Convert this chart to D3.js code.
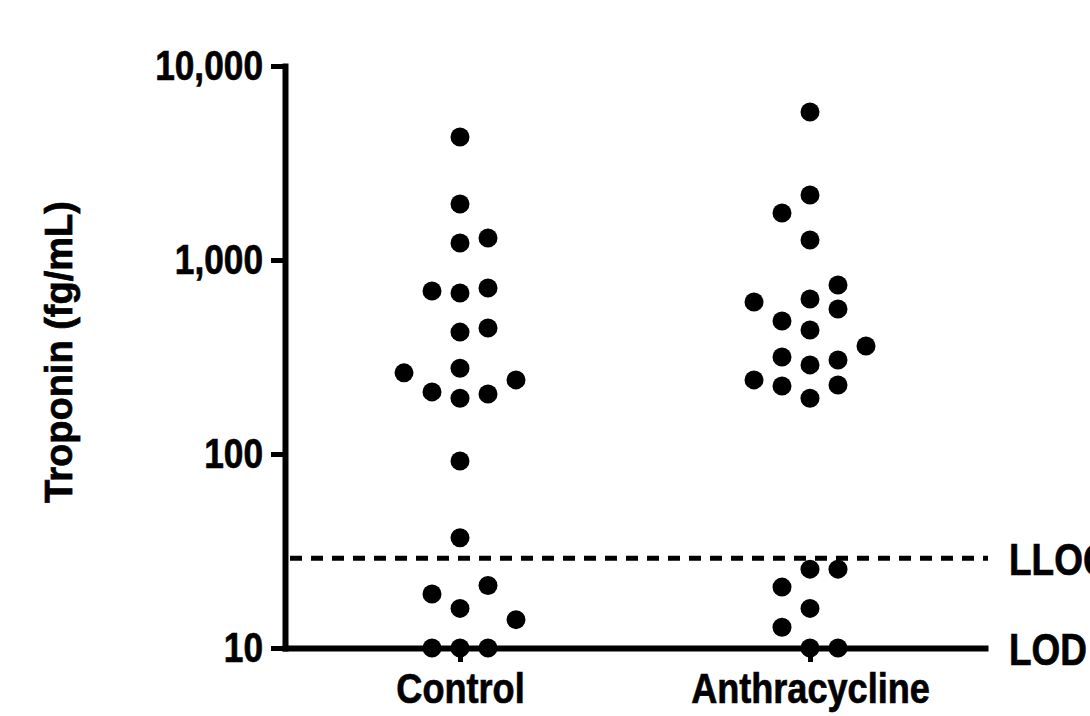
<!DOCTYPE html>
<html>
<head>
<meta charset="utf-8">
<script src="https://cdn.jsdelivr.net/npm/d3@7.9.0/dist/d3.min.js"></script>
<style>
  body { margin: 0; background: #fff; }
  svg { display: block; }
  text { font-family: "Liberation Sans", Arial, sans-serif; font-weight: bold; fill: #000;
         stroke: #000; stroke-width: 0.7px; }
</style>
</head>
<body>
<svg id="chart" width="1090" height="716"></svg>
<script>
// groups on the x axis
const groups = ['Control', 'Anthracycline'];

// troponin values (fg/mL)
const controlValues = [4305, 1944, 1224, 1298, 692, 676, 717, 425, 446, 277, 262, 241,
  209, 194, 204, 92, 37, 19, 21, 16, 14, 10, 10, 10];
// scatter column of each dot (0 = centre of the group)
const controlSlots = [0, 0, 0, 1, -1, 0, 1, 0, 1, 0, -2, 2,
  -1, 0, 1, 0, 0, -1, 1, 0, 2, -1, 0, 1];

const anthraValues = [5794, 2163, 1747, 1268, 743, 608, 630, 559, 485, 436, 360, 316,
  288, 305, 241, 224, 227, 194, 25.5, 25.5, 20.6, 16, 12.8, 10, 10];
const anthraSlots = [0, 0, -1, 0, 1, -2, 0, 1, -1, 0, 2, -1,
  0, 1, -2, -1, 1, 0, 0, 1, -1, 0, -1, 0, 1];

const yTicks = [10, 100, 1000, 10000];
const lloq = 29;   // lower limit of quantification
const lod = 10;    // limit of detection

const narrow = 0.84; // labels look like a condensed bold face

const svg = d3.select('#chart');

const x = d3.scalePoint().domain(groups).range([285, 985]).padding(0.5);
const y = d3.scaleLog().domain([10, 10000]).range([648, 66]);
const slot = d3.scaleLinear().domain([-1, 1]).range([-28, 28]);

// LLOQ dashed line
svg.append('line')
  .attr('x1', 290).attr('x2', 988)
  .attr('y1', y(lloq)).attr('y2', y(lloq))
  .attr('stroke', '#000').attr('stroke-width', 5)
  .attr('stroke-dasharray', '12,9');

// y axis
const yAxis = svg.append('g')
  .attr('transform', 'translate(285,0)')
  .call(d3.axisLeft(y).tickValues(yTicks).tickFormat(d3.format(','))
    .tickSize(14).tickSizeOuter(0).tickPadding(8));

// x axis (also the LOD line)
const xAxis = svg.append('g')
  .attr('transform', `translate(0,${y(lod)})`)
  .call(d3.axisBottom(x).tickSize(14).tickSizeOuter(0).tickPadding(10));

svg.selectAll('.domain').attr('stroke', '#000').attr('stroke-width', 6)
  .attr('stroke-linecap', 'square');
svg.selectAll('.tick line').attr('stroke', '#000').attr('stroke-width', 5);

yAxis.selectAll('.tick text')
  .attr('font-size', 42)
  .attr('x', -22 / narrow)
  .attr('transform', `scale(${narrow},1)`);

xAxis.selectAll('.tick text')
  .attr('font-size', 43)
  .attr('transform', `scale(${narrow},1)`);

// y title
svg.append('text')
  .attr('transform', 'translate(72,352) rotate(-90)')
  .attr('text-anchor', 'middle')
  .attr('font-size', 38)
  .text('Troponin (fg/mL)');

// line labels
function sideLabel(txt, v) {
  svg.append('text')
    .attr('transform', `translate(1009,${y(v) + 1}) scale(${narrow},1)`)
    .attr('dy', '0.36em')
    .attr('font-size', 44)
    .text(txt);
}
sideLabel('LLOQ', lloq);
sideLabel('LOD', lod);

// dots
function drawGroup(name, values, slots) {
  svg.append('g').selectAll('circle')
    .data(values)
    .join('circle')
    .attr('cx', (d, i) => x(name) + slot(slots[i]))
    .attr('cy', d => y(d))
    .attr('r', 9.5)
    .attr('fill', '#000');
}
drawGroup('Control', controlValues, controlSlots);
drawGroup('Anthracycline', anthraValues, anthraSlots);
</script>
</body>
</html>
